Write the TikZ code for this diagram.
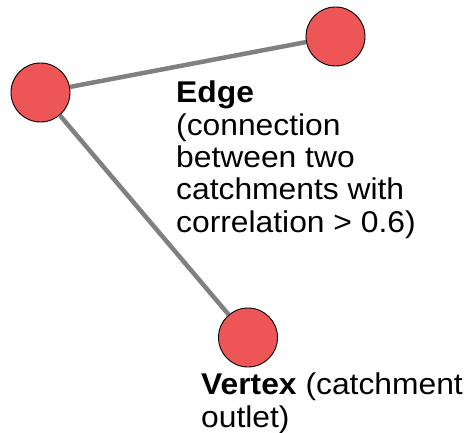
\documentclass[tikz,border=0pt]{standalone}
\usepackage{fontspec}
\setmainfont[FakeStretch=1.06]{Liberation Sans}
\definecolor{vred}{RGB}{238,85,87}
\definecolor{egray}{RGB}{128,128,128}
\tikzset{
  vert/.style={circle, draw=black, line width=0.9pt, fill=vred, minimum size=59pt, inner sep=0pt},
  edgeline/.style={draw=egray, line width=4.5pt},
  lbl/.style={anchor=base west, align=left, inner sep=0pt, font=\fontsize{30}{32.3}\selectfont}
}
\begin{document}
\begin{tikzpicture}[x=1pt,y=-1pt]
\useasboundingbox (0,0) rectangle (468,433);
\node[vert] (a) at (40.5,92.5) {};
\node[vert] (b) at (335.5,36.5) {};
\node[vert] (c) at (248,337.5) {};
\draw[edgeline] (a) -- (b);
\draw[edgeline] (a) -- (c);
\node[lbl] (el) at (176,232) {\textbf{Edge}\\(connection\\between two\\catchments with\\correlation > 0.6)};
\node[lbl] (vl) at (201,427) {\textbf{Vertex} (catchment\\outlet)};
\end{tikzpicture}
\end{document}
